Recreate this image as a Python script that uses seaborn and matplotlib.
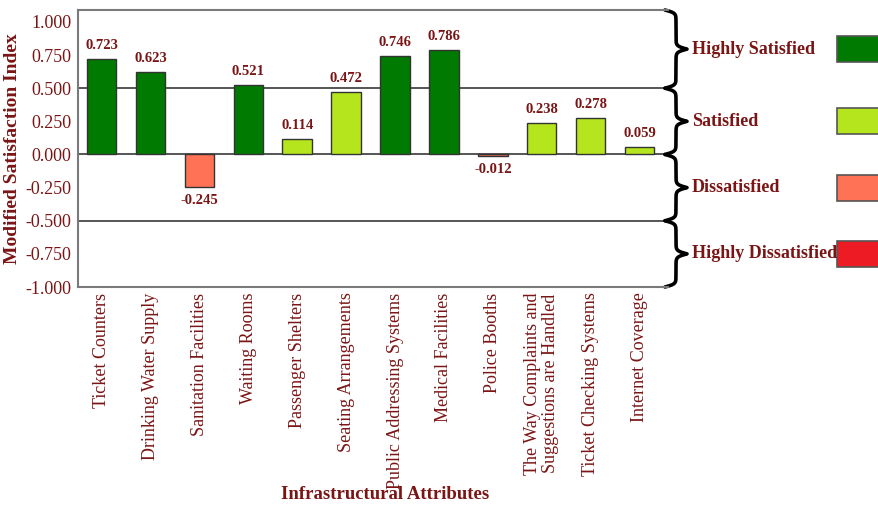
import numpy as np
import pandas as pd
import matplotlib
matplotlib.use("Agg")
import matplotlib.pyplot as plt
import matplotlib.transforms as mtransforms
from matplotlib.patches import Rectangle
import seaborn as sns

# data
attributes = [
    "Ticket Counters",
    "Drinking Water Supply",
    "Sanitation Facilities",
    "Waiting Rooms",
    "Passenger Shelters",
    "Seating Arrangements",
    "Public Addressing Systems",
    "Medical Facilities",
    "Police Booths",
    "The Way Complaints and\nSuggestions are Handled",
    "Ticket Checking Systems",
    "Internet Coverage",
]
msi = [0.723, 0.623, -0.245, 0.521, 0.114, 0.472, 0.746, 0.786, -0.012, 0.238, 0.278, 0.059]

bands = ["Highly Satisfied", "Satisfied", "Dissatisfied", "Highly Dissatisfied"]
band_colors = ["#007A00", "#B5E61D", "#FF7256", "#ED1C24"]
yticks = [1.0, 0.75, 0.5, 0.25, 0.0, -0.25, -0.5, -0.75, -1.0]


def band_of(v):
    if v > 0.5:
        return bands[0]
    if v >= 0:
        return bands[1]
    if v >= -0.5:
        return bands[2]
    return bands[3]


df = pd.DataFrame({"attr": attributes, "msi": msi})
df["band"] = df["msi"].apply(band_of)

sns.set_theme(style="white")
plt.rcParams["font.family"] = ["Liberation Serif", "DejaVu Serif"]
txt = "#7B1515"

fig = plt.figure(figsize=(8.79, 5.07), dpi=100)
ax = fig.add_axes([78 / 879, 220 / 507, 590 / 879, 277 / 507])

sns.barplot(
    data=df, x="attr", y="msi", hue="band", hue_order=bands,
    palette=dict(zip(bands, band_colors)), dodge=False, width=0.6,
    saturation=1, edgecolor="#333333", linewidth=1, legend=False, ax=ax,
)

for c in ax.containers:
    ax.bar_label(c, fmt="{:.3f}", padding=5, fontsize=10.5,
                 fontweight="bold", color=txt)

ylo, yhi = -1.0, 1.09
ax.set_ylim(ylo, yhi)
ax.set_xlim(-0.48, 11.58)
ax.set_yticks(yticks)
ax.set_yticklabels([f"{t:.3f}" for t in yticks])
ax.tick_params(axis="both", length=0, labelsize=13, colors=txt)
ax.tick_params(axis="y", pad=5)
ax.tick_params(axis="x", pad=4)
plt.setp(ax.get_xticklabels(), rotation=90, ha="center", va="top",
         linespacing=1.05)

ax.set_xlabel("Infrastructural Attributes", fontsize=13.5, fontweight="bold",
              color=txt)
ax.xaxis.set_label_coords((385 - 78) / 590, -(486 - 287) / 277)
ax.set_ylabel("Modified Satisfaction Index", fontsize=14, fontweight="bold",
              color=txt, labelpad=3)

for s in ["left", "top", "bottom"]:
    ax.spines[s].set_color("#7a7a7a")
    ax.spines[s].set_linewidth(1.5)
ax.spines["right"].set_visible(False)
for y in [0.5, 0.0, -0.5]:
    ax.axhline(y, color="#555555", lw=1.4, zorder=0)

# braces + legend on the right
trans = mtransforms.blended_transform_factory(ax.transAxes, ax.transData)
edges = [yhi, 0.5, 0.0, -0.5, ylo]
ax_w = 590.0
beta = 90.0
for i, name in enumerate(bands):
    top, bot = edges[i], edges[i + 1]
    t = np.linspace(top, bot, 401)
    half = t[:201]
    h = (1 / (1 + np.exp(-beta * np.abs(half - half[0])))
         + 1 / (1 + np.exp(beta * np.abs(half - half[-1]))))
    xs = np.concatenate((h, h[-2::-1])) - 0.5
    ax.plot(1.0 - 3 / ax_w + xs * 22 / ax_w, t, transform=trans,
            color="black", lw=2.6, clip_on=False, solid_capstyle="round")
    mid = (top + bot) / 2
    ax.text((692 - 78) / ax_w, mid, name, transform=trans, ha="left",
            va="center", fontsize=13, fontweight="bold", color=txt,
            clip_on=False)
    ax.add_patch(Rectangle(((837 - 78) / ax_w, mid - 0.098), 42 / ax_w, 0.196,
                           transform=trans, facecolor=band_colors[i],
                           edgecolor="#555555", lw=1.2, clip_on=False))

fig.savefig("out.png", dpi=100, facecolor="white")
